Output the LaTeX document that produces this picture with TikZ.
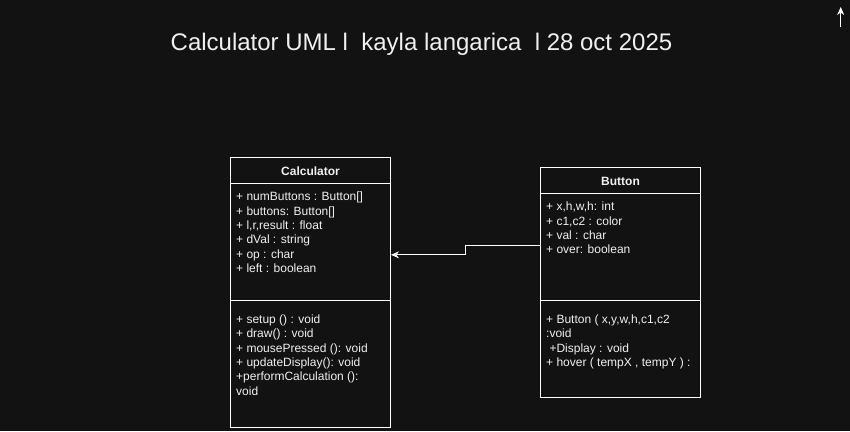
\documentclass[tikz,border=0pt]{standalone}
\usepackage{fontspec}
\setmainfont{Liberation Sans}
\usetikzlibrary{arrows.meta,calc}
\definecolor{bg}{HTML}{121212}
\definecolor{fg}{HTML}{F0F0F0}
\begin{document}
\begin{tikzpicture}[x=1pt,y=-1pt,
  box/.style={draw=white,line width=1pt,minimum width=160pt,inner sep=0pt,anchor=north west},
  txt/.style={text=fg,font=\fontsize{12}{14.4}\selectfont,anchor=base west,inner sep=0pt},
  hdr/.style={text=fg,font=\fontsize{12}{14.4}\selectfont\bfseries,anchor=base,inner sep=0pt},
  sep/.style={draw=white,line width=1pt},
  conn/.style={draw=white,line width=1pt,-{Stealth[length=8pt,width=7pt,inset=2.5pt]}}]
\fill[bg] (0,0) rectangle (850,431);
\useasboundingbox (0,0) rectangle (850,431);

\node[text=fg,font=\fontsize{24}{28}\selectfont,anchor=base,inner sep=0pt] (title) at (421.5,50.5) {Calculator UML l\ \ kayla langarica\ \ l 28 oct 2025};

\node[box,minimum height=270pt] (calc) at (230,157) {};
\node[box,minimum height=230pt] (btn) at (540,167) {};

\draw[sep] ($(calc.north west)+(0,26.3)$) -- ($(calc.north east)+(0,26.3)$);
\draw[sep] ($(calc.north west)+(0,143.7)$) -- ($(calc.north east)+(0,143.7)$);
\draw[sep] ($(btn.north west)+(0,26.3)$) -- ($(btn.north east)+(0,26.3)$);
\draw[sep] ($(btn.north west)+(0,133.7)$) -- ($(btn.north east)+(0,133.7)$);

\node[hdr] (calct) at ($(calc.north)+(0,18)$) {Calculator};
\node[hdr] (btnt) at ($(btn.north)+(0,18)$) {Button};

\foreach \t [count=\i] in {{+ numButtons : Button[]},{+ buttons: Button[]},{+ l,r,result : float},{+ dVal : string},{+ op : char},{+ left : boolean}}
  \node[txt] (ca\i) at (236,{200.7+14.4*(\i-1)}) {\t};
\foreach \t [count=\i] in {{+ setup () : void},{+ draw() : void},{+ mousePressed (): void},{+ updateDisplay(): void},{+performCalculation ():},{void}}
  \node[txt] (cm\i) at (236,{323.3+14.4*(\i-1)}) {\t};
\foreach \t [count=\i] in {{+ x,h,w,h: int},{+ c1,c2 : color},{+ val : char},{+ over: boolean}}
  \node[txt] (ba\i) at (546,{210.7+14.4*(\i-1)}) {\t};
\foreach \t [count=\i] in {{+ Button ( x,y,w,h,c1,c2},{:void},{\ +Display : void},{+ hover ( tempX , tempY ) :}}
  \node[txt] (bm\i) at (546,{323.3+14.4*(\i-1)}) {\t};

\coordinate (bp) at ($(btn.west)+(0,-36.7)$);
\coordinate (cp) at ($(calc.east)+(0,-37.7)$);
\coordinate (bend) at ($(bp)+(-74.6,0)$);
\draw[conn] (bp) -- (bend) |- (cp);

\coordinate (ua) at (840.7,27);
\coordinate (ub) at (840.7,7);
\draw[conn] (ua) -- (ub);
\end{tikzpicture}
\end{document}
